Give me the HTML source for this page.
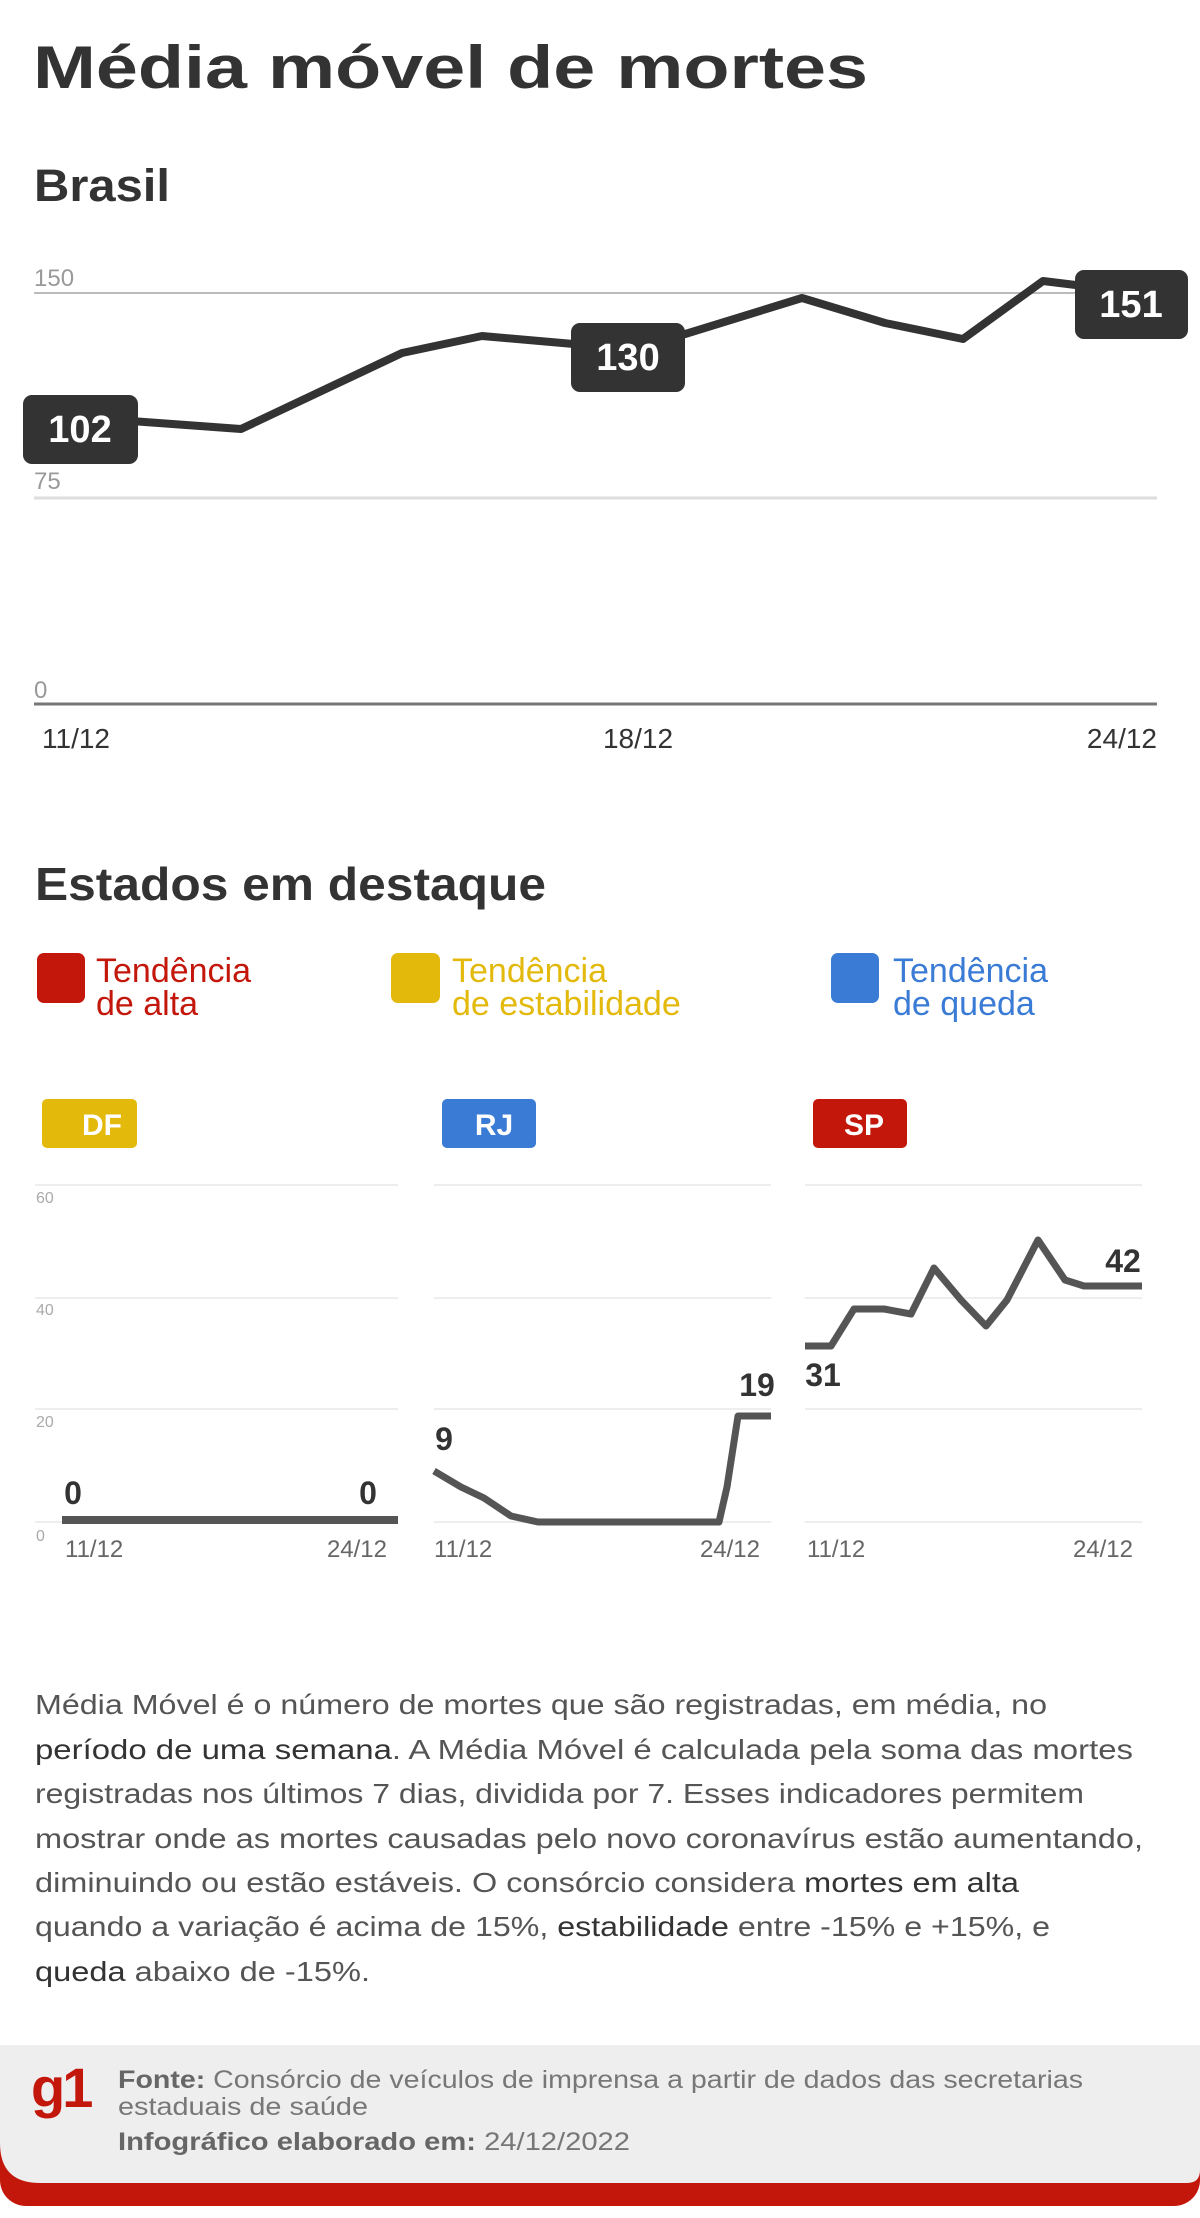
<!DOCTYPE html>
<html><head><meta charset="utf-8"><style>
html,body{margin:0;padding:0;background:#fff;width:1200px;height:2218px;overflow:hidden}
svg{display:block;font-family:"Liberation Sans",sans-serif}
</style></head><body>
<svg width="1200" height="2218" viewBox="0 0 1200 2218" xmlns="http://www.w3.org/2000/svg">
<text x="33" y="88" font-size="60" font-weight="bold" fill="#333" textLength="835" lengthAdjust="spacingAndGlyphs">Média móvel de mortes</text>
<text x="34" y="201" font-size="45" font-weight="bold" fill="#333" textLength="136" lengthAdjust="spacingAndGlyphs">Brasil</text>
<!-- Brasil chart -->
<line x1="34" y1="293" x2="1157" y2="293" stroke="#bbb" stroke-width="2"/>
<line x1="34" y1="498" x2="1157" y2="498" stroke="#ddd" stroke-width="3"/>
<line x1="34" y1="704" x2="1157" y2="704" stroke="#777" stroke-width="3"/>
<text x="34" y="286" font-size="24" fill="#999">150</text>
<text x="34" y="489" font-size="24" fill="#999">75</text>
<text x="34" y="698" font-size="24" fill="#999">0</text>
<polyline points="90,421 131,421 241,429 402,353 482,336 585,345 669,339 802,298 885,323 963,339 1043,281 1092,287 1154,292" fill="none" stroke="#333" stroke-width="8" stroke-linejoin="round"/>
<rect x="23" y="395" width="115" height="69" rx="9" fill="#333"/>
<text x="80" y="442" font-size="38" font-weight="bold" fill="#fff" text-anchor="middle">102</text>
<rect x="571" y="323" width="114" height="69" rx="9" fill="#333"/>
<text x="628" y="370" font-size="38" font-weight="bold" fill="#fff" text-anchor="middle">130</text>
<rect x="1075" y="270" width="113" height="69" rx="9" fill="#333"/>
<text x="1131" y="317" font-size="38" font-weight="bold" fill="#fff" text-anchor="middle">151</text>
<text x="42" y="748" font-size="28" fill="#333">11/12</text>
<text x="638" y="748" font-size="28" fill="#333" text-anchor="middle">18/12</text>
<text x="1157" y="748" font-size="28" fill="#333" text-anchor="end">24/12</text>
<!-- Estados -->
<text x="35" y="900" font-size="46" font-weight="bold" fill="#333" textLength="511" lengthAdjust="spacingAndGlyphs">Estados em destaque</text>
<rect x="37" y="953" width="48" height="50" rx="7" fill="#c4170c"/>
<text font-size="34" fill="#c4170c"><tspan x="96" y="982">Tendência</tspan><tspan x="96" y="1015">de alta</tspan></text>
<rect x="391" y="953" width="49" height="50" rx="7" fill="#e3b90b"/>
<text font-size="34" fill="#e3b90b"><tspan x="452" y="982">Tendência</tspan><tspan x="452" y="1015">de estabilidade</tspan></text>
<rect x="831" y="953" width="48" height="50" rx="7" fill="#3a7bd5"/>
<text font-size="34" fill="#3a7bd5"><tspan x="893" y="982">Tendência</tspan><tspan x="893" y="1015">de queda</tspan></text>
<rect x="42" y="1099" width="95" height="49" rx="5" fill="#e3b90b"/>
<text x="102" y="1135" font-size="30" font-weight="bold" fill="#fff" text-anchor="middle">DF</text>
<rect x="442" y="1099" width="94" height="49" rx="5" fill="#3a7bd5"/>
<text x="494" y="1135" font-size="30" font-weight="bold" fill="#fff" text-anchor="middle">RJ</text>
<rect x="813" y="1099" width="94" height="49" rx="5" fill="#c4170c"/>
<text x="864" y="1135" font-size="30" font-weight="bold" fill="#fff" text-anchor="middle">SP</text>
<g stroke="#eee" stroke-width="2">
<line x1="35" y1="1185" x2="398" y2="1185"/><line x1="35" y1="1298" x2="398" y2="1298"/><line x1="35" y1="1409" x2="398" y2="1409"/><line x1="35" y1="1522" x2="398" y2="1522"/>
<line x1="434" y1="1185" x2="771" y2="1185"/><line x1="434" y1="1298" x2="771" y2="1298"/><line x1="434" y1="1409" x2="771" y2="1409"/><line x1="434" y1="1522" x2="771" y2="1522"/>
<line x1="805" y1="1185" x2="1142" y2="1185"/><line x1="805" y1="1298" x2="1142" y2="1298"/><line x1="805" y1="1409" x2="1142" y2="1409"/><line x1="805" y1="1522" x2="1142" y2="1522"/>
</g>
<g font-size="16" fill="#aaa">
<text x="36" y="1203">60</text><text x="36" y="1315">40</text><text x="36" y="1427">20</text><text x="36" y="1541">0</text>
</g>
<line x1="62" y1="1520" x2="398" y2="1520" stroke="#555" stroke-width="8"/>
<polyline points="434,1471 461,1487 484,1498 511,1516 538,1522 719,1522 727,1487 738,1416 771,1416" fill="none" stroke="#555" stroke-width="7" stroke-linejoin="round"/>
<polyline points="805,1346 831,1346 854,1309 884,1309 911,1314 934,1268 961,1300 986,1326 1007,1300 1038,1240 1065,1280 1084,1286 1142,1286" fill="none" stroke="#555" stroke-width="7" stroke-linejoin="round"/>
<g font-size="32" font-weight="bold" fill="#333" text-anchor="middle">
<text x="73" y="1504">0</text><text x="368" y="1504">0</text>
<text x="444" y="1450">9</text><text x="757" y="1396">19</text>
<text x="823" y="1386">31</text><text x="1123" y="1272">42</text>
</g>
<g font-size="24" fill="#666">
<text x="65" y="1557">11/12</text><text x="387" y="1557" text-anchor="end">24/12</text>
<text x="434" y="1557">11/12</text><text x="760" y="1557" text-anchor="end">24/12</text>
<text x="807" y="1557">11/12</text><text x="1133" y="1557" text-anchor="end">24/12</text>
</g>
<!-- paragraph -->
<g font-size="28" fill="#555" lengthAdjust="spacingAndGlyphs">
<text x="35" y="1714" textLength="1012" lengthAdjust="spacingAndGlyphs">Média Móvel é o número de mortes que são registradas, em média, no</text>
<text x="35" y="1759" textLength="1098" lengthAdjust="spacingAndGlyphs"><tspan fill="#333">período de uma semana</tspan>. A Média Móvel é calculada pela soma das mortes</text>
<text x="35" y="1803" textLength="1049" lengthAdjust="spacingAndGlyphs">registradas nos últimos 7 dias, dividida por 7. Esses indicadores permitem</text>
<text x="35" y="1848" textLength="1108" lengthAdjust="spacingAndGlyphs">mostrar onde as mortes causadas pelo novo coronavírus estão aumentando,</text>
<text x="35" y="1892" textLength="984" lengthAdjust="spacingAndGlyphs">diminuindo ou estão estáveis. O consórcio considera <tspan fill="#333">mortes em alta</tspan></text>
<text x="35" y="1936" textLength="1015" lengthAdjust="spacingAndGlyphs">quando a variação é acima de 15%, <tspan fill="#333">estabilidade</tspan> entre -15% e +15%, e</text>
<text x="35" y="1981" textLength="335" lengthAdjust="spacingAndGlyphs"><tspan fill="#333">queda</tspan> abaixo de -15%.</text>
</g>
<!-- footer -->
<rect x="0" y="2045" width="1200" height="161" rx="26" fill="#c4170c"/>
<rect x="0" y="2045" width="1200" height="40" fill="#c4170c"/>
<path d="M0,2045 H1200 V2170 Q1200,2183 1187,2183 H40 Q0,2183 0,2143 Z" fill="#eee"/>
<text x="31" y="2107" font-size="56" font-weight="bold" fill="#c4170c" letter-spacing="-3">g1</text>
<g font-size="25" fill="#777">
<text x="118" y="2088" textLength="965" lengthAdjust="spacingAndGlyphs"><tspan font-weight="bold" fill="#666">Fonte:</tspan> Consórcio de veículos de imprensa a partir de dados das secretarias</text>
<text x="118" y="2115" textLength="250" lengthAdjust="spacingAndGlyphs">estaduais de saúde</text>
<text x="118" y="2150" textLength="512" lengthAdjust="spacingAndGlyphs"><tspan font-weight="bold" fill="#666">Infográfico elaborado em:</tspan> 24/12/2022</text>
</g>
</svg>
</body></html>
